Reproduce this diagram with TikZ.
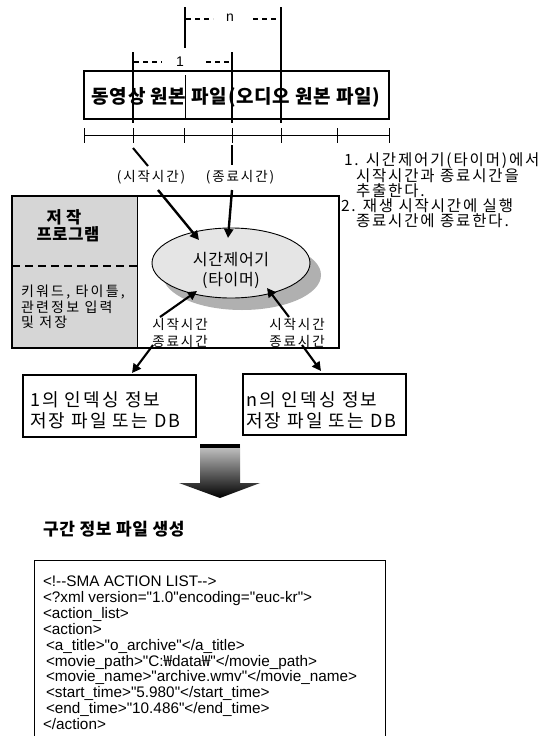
\documentclass[tikz,border=0pt]{standalone}
\usepackage{fontspec}
\setmainfont{Liberation Sans}
\newfontfamily\codefont{Liberation Sans}
\newfontfamily\krA[LetterSpace=14]{Noto Sans CJK KR}
\newfontfamily\krC[LetterSpace=12]{Noto Sans CJK KR}
\newfontfamily\krD[LetterSpace=16]{Noto Sans CJK KR}
\newfontfamily\krB[LetterSpace=4]{Noto Sans CJK KR}
\newfontfamily\krN{Noto Sans CJK KR}
\usetikzlibrary{arrows.meta}
\begin{document}
\begin{tikzpicture}[x=1pt,y=-1pt,
  every node/.style={inner sep=0pt,outer sep=0pt},
  frame/.style={line width=1.1pt},
  bar/.style={line width=1.9pt},
  thinln/.style={line width=1pt},
  dashln/.style={line width=1.2pt,dash pattern=on 5pt off 4pt},
  fatarrow/.style={line width=2.4pt,-{Triangle[length=9pt,width=9pt]}},
  kt/.style={font=\krA\fontsize{13.5}{15}\selectfont},
  kn/.style={font=\krC\fontsize{15.5}{17}\selectfont,anchor=west},
  ktb/.style={font=\krB\bfseries\fontsize{16.5}{18}\selectfont},
  kbig/.style={font=\krB\bfseries\fontsize{19}{21}\selectfont},
  kbox/.style={font=\krC\fontsize{18}{20}\selectfont,anchor=west},
  kpan/.style={font=\krD\fontsize{14}{16}\selectfont,anchor=west},
  kell/.style={font=\krB\fontsize{16}{18}\selectfont},
  lat/.style={font=\fontsize{14}{16}\selectfont},
  code/.style={font=\codefont\fontsize{15.3}{17}\selectfont,anchor=base west}
]
\useasboundingbox[fill=white] (0,0) rectangle (550,736);

% ---------- top brackets ----------
\draw[dashln] (186,19) -- (213,19);
\node[lat] (nlab) at (230,18) {n};
\draw[dashln] (253,19) -- (280,19);
\draw[dashln] (134,62) -- (162,62);
\node[lat] (onelab) at (180,62) {1};
\draw[dashln] (206,62) -- (231,62);

% ---------- file box ----------
\draw[frame] (84,71) rectangle (389,119);
\node[kbig] (file) at (236,97) {동영상 원본 파일(오디오 원본 파일)};

\draw[bar] (185,7) -- (185,48);
\draw[bar] (281,7) -- (281,123);
\draw[bar] (133,52) -- (133,123);
\draw[bar] (232,52) -- (232,123);
\draw[line width=0.9pt] (185,75) -- (185,119);

% ---------- timeline ----------
\draw[thinln] (84,135) -- (389,135);
\foreach \x in {84,133,184,232,281,337,389} \draw[thinln] (\x,128) -- (\x,143);

% ---------- labels and arrows into timer ----------
\node[kt] (lstart) at (151,177) {(시작시간)};
\node[kt] (lend) at (240,177) {(종료시간)};
\coordinate (d1a) at (133,148); \coordinate (d1b) at (148,166);
\coordinate (d2a) at (232,145); \coordinate (d2b) at (232,165);
\draw[line width=2pt] (d1a) -- (d1b);
\draw[line width=2.2pt] (d2a) -- (d2b);

% ---------- right notes ----------
\node[kn] (r1) at (344,161) {1. 시간제어기(타이머)에서};
\node[kn] (r2) at (356,176) {시작시간과 종료시간을};
\node[kn] (r3) at (356,191) {추출한다.};
\node[kn] (r4) at (341,206) {2. 재생 시작시간에 실행};
\node[kn] (r5) at (356,221) {종료시간에 종료한다.};

% ---------- big box ----------
\fill[gray!32] (12,196) rectangle (137,348);
\draw[frame] (12,196) rectangle (339,348);
\draw[line width=0.9pt] (137,196) -- (137,348);
\draw[line width=2.6pt,dash pattern=on 8pt off 5pt] (12,266) -- (137,266);
\node[ktb] (p1) at (64,217) {저 작};
\node[ktb] (p2) at (68,234) {프로그램};
\node[kpan] (k1) at (21,292) {키워드, 타이틀,};
\node[kpan] (k2) at (21,307) {관련정보 입력};
\node[kpan] (k3) at (21,322) {및 저장};

% ---------- timer ellipse ----------
\fill[gray!62] (242,275) ellipse [x radius=79, y radius=35];
\draw[line width=0.9pt,fill=gray!20] (231,263) ellipse [x radius=79, y radius=35];
\node[kell] (t1) at (231,260) {시간제어기};
\node[kell] (t2) at (231,280) {(타이머)};

\coordinate (a1s) at (158,190); \coordinate (a1e) at (199,240);
\coordinate (a2s) at (232,190); \coordinate (a2e) at (228,238);
\draw[fatarrow] (a1s) -- (a1e);
\draw[fatarrow] (a2s) -- (a2e);

% ---------- inner labels ----------
\node[kt] (s1) at (180,324) {시작시간};
\node[kt] (e1) at (180,341) {종료시간};
\node[kt] (s2) at (297,324) {시작시간};
\node[kt] (e2) at (297,341) {종료시간};
\coordinate (b1s) at (160,317); \coordinate (b1e) at (197,291);
\coordinate (b2s) at (289,317); \coordinate (b2e) at (267,288);
\draw[fatarrow,line width=2.1pt] (b1s) -- (b1e);
\draw[fatarrow,line width=2.1pt] (b2s) -- (b2e);
\coordinate (c1s) at (153,345); \coordinate (c1e) at (132,373);
\coordinate (c2s) at (302,345); \coordinate (c2e) at (321,371);
\draw[fatarrow,line width=2.1pt] (c1s) -- (c1e);
\draw[fatarrow,line width=2.1pt] (c2s) -- (c2e);

% ---------- index boxes ----------
\draw[frame] (23,375) rectangle (196,437);
\node[kbox] (i1a) at (30,400) {1의 인덱싱 정보};
\node[kbox] (i1b) at (30,421) {저장 파일 또는 DB};
\draw[frame] (243,374) rectangle (406,435);
\node[kbox] (i2a) at (246,400) {n의 인덱싱 정보};
\node[kbox] (i2b) at (246,421) {저장 파일 또는 DB};

% ---------- big down arrow ----------
\shade[top color=gray!40, bottom color=black]
  (200,444) -- (240,444) -- (240,483) -- (260,483) -- (220,498) -- (179,483) -- (200,483) -- cycle;
\fill[black] (200,444) rectangle (240,448);

% ---------- title ----------
\node[anchor=west,font=\krB\bfseries\fontsize{17}{19}\selectfont] (title) at (43,529) {구간 정보 파일 생성};

% ---------- code box ----------
\draw[line width=1pt] (34,740) -- (34,560) -- (385,560) -- (385,740);
\node[code] (c1) at (43,586) {<!--SMA ACTION LIST-->};
\node[code] (c2) at (43,602) {<?xml version="1.0"encoding="euc-kr">};
\node[code] (c3) at (43,618) {<action\_list>};
\node[code] (c4) at (43,634) {<action>};
\node[code] (c5) at (46,650) {<a\_title>"o\_archive"</a\_title>};
\node[code] (c6) at (46,666) {<movie\_path>"C:{\krN ₩}data{\krN ₩}"</movie\_path>};
\node[code] (c7) at (46,681) {<movie\_name>"archive.wmv"</movie\_name>};
\node[code] (c8) at (46,697) {<start\_time>"5.980"</start\_time>};
\node[code] (c9) at (46,713) {<end\_time>"10.486"</end\_time>};
\node[code] (c10) at (43,729) {</action>};
\end{tikzpicture}
\end{document}
